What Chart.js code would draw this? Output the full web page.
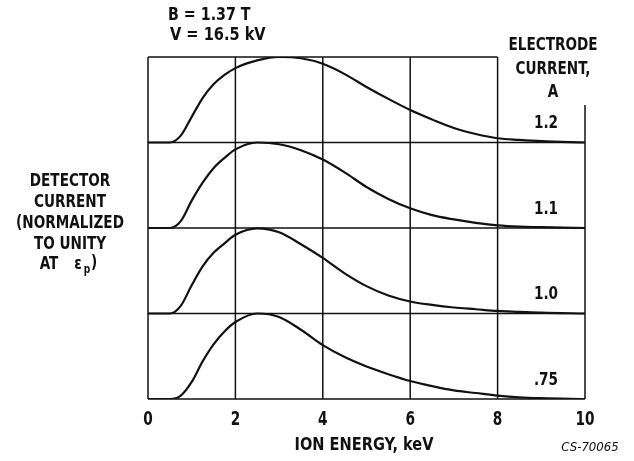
<!DOCTYPE html>
<html>
<head>
<meta charset="utf-8">
<script src="https://cdn.jsdelivr.net/npm/chart.js@4.4.1/dist/chart.umd.min.js"></script>
<style>
  body { margin: 0; background: #fff; }
  #wrap { width: 634px; height: 461px; }
</style>
</head>
<body>
<div id="wrap"><canvas id="chart" width="634" height="461"></canvas></div>
<script>
// ion energy, keV
var energy = [0, 0.5, 0.75, 1, 1.25, 1.5, 1.75, 2, 2.5, 3, 3.5, 4, 4.5, 5, 5.5, 6, 6.5, 7, 7.5, 8, 8.5, 9, 10];
// detector current, normalized (one array per electrode current)
var cur120 = [0, 0, 0.08, 0.30, 0.52, 0.68, 0.79, 0.87, 0.96, 1.00, 0.985, 0.92, 0.80, 0.65, 0.51, 0.38, 0.27, 0.17, 0.10, 0.05, 0.03, 0.015, 0];
var cur110 = [0, 0, 0.08, 0.32, 0.53, 0.70, 0.82, 0.92, 1.00, 0.98, 0.91, 0.80, 0.65, 0.48, 0.34, 0.23, 0.15, 0.10, 0.06, 0.03, 0.015, 0.01, 0];
var cur100 = [0, 0, 0.09, 0.33, 0.55, 0.71, 0.82, 0.92, 0.995, 0.95, 0.81, 0.65, 0.47, 0.32, 0.21, 0.14, 0.10, 0.07, 0.05, 0.03, 0.02, 0.01, 0];
var cur075 = [0, 0, 0.04, 0.20, 0.44, 0.64, 0.79, 0.90, 1.00, 0.96, 0.81, 0.63, 0.49, 0.38, 0.29, 0.21, 0.15, 0.10, 0.07, 0.04, 0.02, 0.01, 0];
var curveLabels = ["1.2", "1.1", "1.0", ".75"];
var curveOffsets = [3, 2, 1, 0];
var xTicks = [0, 2, 4, 6, 8, 10];

var FONT = '"DejaVu Sans Condensed", "Liberation Sans", sans-serif';

function makeSet(vals, off) {
  return {
    data: energy.map(function(e, i) { return { x: e, y: vals[i] + off }; }),
    borderColor: "#111",
    borderWidth: 2.2,
    pointRadius: 0,
    fill: false,
    cubicInterpolationMode: "monotone"
  };
}

var series = [cur120, cur110, cur100, cur075];

// squeezed lettering like the old stencil
function txt(c, s, x, y, sx) {
  c.save();
  c.translate(x, y);
  c.scale(sx || 0.84, 1);
  c.fillText(s, 0, 0);
  c.restore();
}

// frame, grid, and all the text
var decor = {
  id: "decor",
  beforeDatasetsDraw: function(chart) {
    var c = chart.ctx, xs = chart.scales.x, ys = chart.scales.y;
    c.save();
    c.strokeStyle = "#111";
    c.lineWidth = 1.5;
    function seg(x1, y1, x2, y2) {
      c.beginPath();
      c.moveTo(xs.getPixelForValue(x1), ys.getPixelForValue(y1));
      c.lineTo(xs.getPixelForValue(x2), ys.getPixelForValue(y2));
      c.stroke();
    }
    // baselines
    for (var k = 0; k <= 3; k++) seg(0, k, 10, k);
    // top line stops at 8 keV
    seg(0, 4, 8, 4);
    // verticals
    for (var v = 0; v <= 8; v += 2) seg(v, 0, v, 4);
    seg(10, 0, 10, 3.44);
    c.restore();
  },
  afterDraw: function(chart) {
    var c = chart.ctx, xs = chart.scales.x, ys = chart.scales.y;
    c.save();
    c.fillStyle = "#111";
    c.textBaseline = "middle";
    // x tick labels
    c.font = "bold 19px " + FONT;
    c.textAlign = "center";
    xTicks.forEach(function(t) {
      txt(c, String(t), xs.getPixelForValue(t), 420, 0.8);
    });
    c.font = "bold 18px " + FONT;
    txt(c, "ION ENERGY, keV", 364, 445, 0.9);
    // curve labels
    curveLabels.forEach(function(l, i) {
      txt(c, l, 546, ys.getPixelForValue(curveOffsets[i] + 0.22));
    });
    // legend heading
    txt(c, "ELECTRODE", 553, 45);
    txt(c, "CURRENT,", 553, 69);
    txt(c, "A", 553, 92);
    // conditions
    c.textAlign = "left";
    txt(c, "B = 1.37 T", 168, 15, 0.88);
    txt(c, "V = 16.5 kV", 170, 35, 0.9);
    // y title
    c.textAlign = "center";
    var yl = ["DETECTOR", "CURRENT", "(NORMALIZED", "TO UNITY"];
    yl.forEach(function(s, i) { txt(c, s, 70, 181 + i * 21); });
    txt(c, "AT", 49, 264);
    txt(c, "\u03b5", 78, 264);
    c.font = "bold 12px " + FONT;
    txt(c, "p", 87, 270);
    c.font = "bold 18px " + FONT;
    txt(c, ")", 94, 263);
    // figure id
    c.font = "italic 13px " + FONT;
    c.fillText("CS-70065", 590, 448);
    c.restore();
  }
};

new Chart(document.getElementById("chart"), {
  type: "line",
  data: { datasets: series.map(function(s, i) { return makeSet(s, curveOffsets[i]); }) },
  options: {
    responsive: false,
    animation: false,
    events: [],
    layout: { padding: { left: 148, right: 49, top: 57, bottom: 62 } },
    plugins: { legend: { display: false }, tooltip: { enabled: false } },
    scales: {
      x: { type: "linear", min: 0, max: 10, display: false },
      y: { type: "linear", min: 0, max: 4, display: false }
    }
  },
  plugins: [decor]
});
</script>
</body>
</html>
